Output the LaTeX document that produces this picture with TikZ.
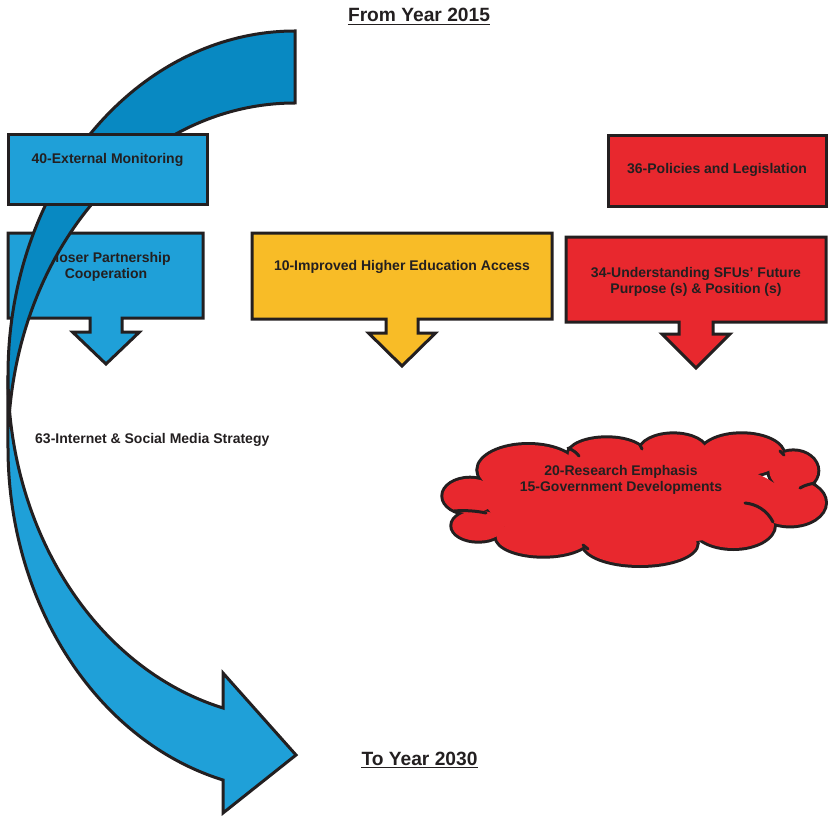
\documentclass[tikz,border=0pt]{standalone}
\usepackage{fontspec}
\setmainfont{Liberation Sans}
\definecolor{ink}{HTML}{231F20}
\definecolor{skyblue}{HTML}{1FA0D8}
\definecolor{deepblue}{HTML}{0889C2}
\definecolor{amber}{HTML}{F8BC27}
\definecolor{signalred}{HTML}{E8282E}
\begin{document}
\begin{tikzpicture}[x=1pt,y=-1pt,
  line join=miter,
  outline/.style={draw=ink, line width=3pt},
  label/.style={font=\fontsize{14}{16}\selectfont\bfseries, text=ink, inner sep=0pt, anchor=base},
  heading/.style={font=\fontsize{19.2}{22}\selectfont\bfseries, text=ink, inner sep=0pt, anchor=base},
  rim/.style={ink, line width=1.5pt},
  hint/.style={draw=ink, line width=3pt, line cap=round},
]
\useasboundingbox (0,0) rectangle (828,816);

% box under the curved band
\draw[outline, fill=skyblue] (8,233) -- (203,233) -- (203,318) -- (122,318) -- (122,332)
  -- (139.5,332) -- (106,364) -- (72.5,332) -- (90,332) -- (90,318) -- (8,318) -- cycle;
\node[label] (closerA) at (108,262) {Closer Partnership};
\node[label] (closerB) at (106,278) {Cooperation};

% curved band, front face
\draw[outline, fill=skyblue] (8,375)
  arc[start angle=180, end angle=104.53, x radius=287, y radius=344]
  -- (223,673) -- (296,755) -- (223,813) -- (223,780)
  arc[start angle=104.53, end angle=180, x radius=287, y radius=344] -- cycle;
% curved band, back face
\draw[outline, fill=deepblue] (9.58,411)
  arc[start angle=173.99, end angle=270, x radius=287, y radius=344]
  -- (295,103)
  arc[start angle=270, end angle=186.01, x radius=287, y radius=344] -- cycle;

% boxes
\draw[outline, fill=skyblue] (8,134) rectangle (207,204);
\node[label] (extmon) at (107.5,163) {40-External Monitoring};

\draw[outline, fill=amber] (252,233) -- (552,233) -- (552,319) -- (418,319) -- (418,333)
  -- (435.5,333) -- (402,366) -- (368.5,333) -- (386,333) -- (386,319) -- (252,319) -- cycle;
\node[label] (access) at (402,270) {10-Improved Higher Education Access};

\draw[outline, fill=signalred] (608,135) rectangle (826,206);
\node[label] (policies) at (717,173) {36-Policies and Legislation};

\draw[outline, fill=signalred] (566,237) -- (826,237) -- (826,322) -- (713,322) -- (713,334)
  -- (730,334) -- (696,368) -- (662,334) -- (679,334) -- (679,322) -- (566,322) -- cycle;
\node[label] (sfuA) at (696,277) {34-Understanding SFUs’ Future};
\node[label] (sfuB) at (696,293) {Purpose (s) \& Position (s)};

\node[label, anchor=base west] (internet) at (35,443) {63-Internet \& Social Media Strategy};

% cloud: outline of the puffs, then their fill over the inner halves
\def\puffs{470/496/26.7/17.3, 478.3/525.7/26/15, 543.3/536.7/46.7/19,
  640/543.3/56.7/21.7, 733.3/525.3/40.7/22.7, 790/502.7/35/22.7,
  793.3/470.7/24/19.3, 741.7/455/41.7/20.7, 673.3/451.7/33.3/17.3,
  606.7/455/38.3/16.7, 528.3/470/50/25}
\foreach \cx/\cy/\rx/\ry in \puffs
  \draw[ink, line width=6pt] (\cx,\cy) ellipse[x radius=\rx, y radius=\ry];
\foreach \cx/\cy/\rx/\ry in \puffs
  \fill[signalred] (\cx,\cy) ellipse[x radius=\rx, y radius=\ry];
\fill[signalred] (635,500) ellipse[x radius=150, y radius=45];
\fill[signalred] (510,515) ellipse[x radius=20, y radius=12];
% inner puff creases
\draw[hint] (454,511) .. controls (465,510) and (477,511) .. (486,513);
\draw[hint] (568,448) .. controls (573,450) and (577,453) .. (579,456);
\draw[hint] (800,488) .. controls (805,485) and (810,484) .. (815,483);
\draw[hint] (745,503) .. controls (756,504) and (767,510) .. (773,522);
\draw[hint] (780,451) -- (784,455);
\draw[hint] (640,445) -- (642,449);
\draw[hint] (583,545) -- (588,549);
\node[label] (research) at (621,475) {20-Research Emphasis};
\node[label] (govt) at (621,491.5) {15-Government Developments};

% headings
\node[heading] (from) at (419,22) {From Year 2015};
\draw[rim] ([yshift=-2.5pt]from.base west) -- ([yshift=-2.5pt]from.base east);
\node[heading] (to) at (419.5,765) {To Year 2030};
\draw[rim] ([yshift=-2.5pt]to.base west) -- ([yshift=-2.5pt]to.base east);
\end{tikzpicture}
\end{document}
